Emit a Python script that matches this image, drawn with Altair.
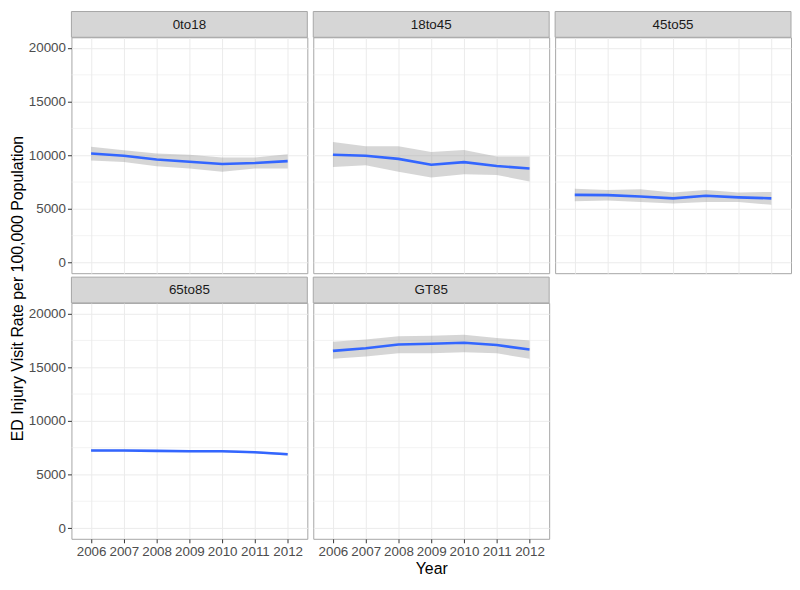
import altair as alt
import pandas as pd

years = [2006, 2007, 2008, 2009, 2010, 2011, 2012]
groups = ["0to18", "18to45", "45to55", "65to85", "GT85"]

rate_0to18 = [10160, 9950, 9600, 9390, 9180, 9270, 9450]
lo_0to18 = [9510, 9360, 8970, 8760, 8460, 8760, 8760]
hi_0to18 = [10790, 10470, 10160, 10040, 9800, 9800, 10100]

rate_18to45 = [10045, 9950, 9660, 9120, 9360, 9000, 8760]
lo_18to45 = [8910, 9060, 8460, 7920, 8220, 8160, 7560]
hi_18to45 = [11240, 10850, 10850, 10310, 10490, 9890, 9890]

rate_45to55 = [6300, 6280, 6160, 5980, 6220, 6070, 5980]
lo_45to55 = [5700, 5790, 5650, 5500, 5650, 5650, 5380]
hi_45to55 = [6880, 6760, 6820, 6520, 6760, 6520, 6580]

rate_65to85 = [7230, 7230, 7200, 7170, 7170, 7070, 6880]
lo_65to85 = [7140, 7150, 7110, 7080, 7080, 6970, 6760]
hi_65to85 = [7320, 7310, 7290, 7260, 7260, 7170, 7000]

rate_GT85 = [16530, 16770, 17130, 17190, 17280, 17070, 16650]
lo_GT85 = [15790, 16000, 16300, 16300, 16390, 16300, 15790]
hi_GT85 = [17370, 17580, 17880, 17940, 18030, 17730, 17490]

series = {
    "0to18": (rate_0to18, lo_0to18, hi_0to18),
    "18to45": (rate_18to45, lo_18to45, hi_18to45),
    "45to55": (rate_45to55, lo_45to55, hi_45to55),
    "65to85": (rate_65to85, lo_65to85, hi_65to85),
    "GT85": (rate_GT85, lo_GT85, hi_GT85),
}

y_major = [0, 5000, 10000, 15000, 20000]
y_minor = [2500, 7500, 12500, 17500]

FONT = "Liberation Sans"
W, H, S = 238, 238, 26
ROW_GAP = 4
Y_TITLE = "ED Injury Visit Rate per 100,000 Population"


def panel(g, idx):
    col = idx % 3
    bottom = g in ("65to85", "GT85")
    left = col == 0
    r, lo, hi = series[g]
    df = pd.DataFrame({"Year": years, "rate": r, "lo": lo, "hi": hi})

    xs = alt.Scale(domain=[2005.4, 2012.6], nice=False, zero=False)
    ys = alt.Scale(domain=[-1000, 21000], nice=False, zero=False)

    xaxis_kw = dict(values=years, format="d", grid=True, labels=bottom,
                    ticks=bottom, domain=False)
    yaxis_kw = dict(values=y_major, format="d", grid=True, labels=left,
                    ticks=left, domain=False)
    if idx == 0:
        yaxis_kw["titleY"] = (2 * H + S + ROW_GAP) / 2
    x_title = "Year" if g == "GT85" else None
    y_title = Y_TITLE if idx == 0 else None

    def X(field):
        return alt.X(field, scale=xs, axis=alt.Axis(**xaxis_kw), title=x_title)

    def Y(field):
        return alt.Y(field, scale=ys, axis=alt.Axis(**yaxis_kw), title=y_title)

    minor = alt.Chart(pd.DataFrame({"v": y_minor})).mark_rule(
        color="#EBEBEB", strokeWidth=0.6
    ).encode(y=Y("v:Q"))

    band = alt.Chart(df).mark_area(color="#999999", opacity=0.4).encode(
        x=X("Year:Q"), y=Y("lo:Q"), y2="hi:Q",
    )
    line = alt.Chart(df).mark_line(color="#3366FF", strokeWidth=2.6).encode(
        x=X("Year:Q"), y=Y("rate:Q"),
    )
    lab = pd.DataFrame({"g": [g]})
    strip = alt.Chart(lab).mark_rect(
        fill="#D6D6D6", stroke="#A6A6A6", strokeWidth=1
    ).encode(
        x=alt.value(0), x2=alt.value(W), y=alt.value(-S), y2=alt.value(0)
    )
    strip_text = alt.Chart(lab).mark_text(
        font=FONT, fontSize=13.5, color="#1A1A1A", baseline="middle", align="center"
    ).encode(x=alt.value(W / 2), y=alt.value(-S / 2 + 0.5), text="g:N")

    return alt.layer(minor, band, line, strip, strip_text).properties(
        width=W, height=H
    )


panels = [panel(g, i) for i, g in enumerate(groups)]

chart = alt.concat(
    *panels, columns=3, bounds="flush",
    spacing={"row": S + ROW_GAP, "column": 6}
).configure(
    padding={"left": 0, "top": 0, "right": 0, "bottom": 0}
).configure_view(
    stroke="#A6A6A6", strokeWidth=1
).configure_axis(
    labelFont=FONT, labelFontSize=13.5, labelColor="#4D4D4D",
    tickColor="#333333", tickSize=4, gridColor="#EBEBEB", gridWidth=1,
    titleFont=FONT, titleFontSize=16, titleColor="#000000",
    titleFontWeight="normal", labelPadding=2, titlePadding=3
)

chart.save("out.html", embed_options={"renderer": "svg", "actions": False})
